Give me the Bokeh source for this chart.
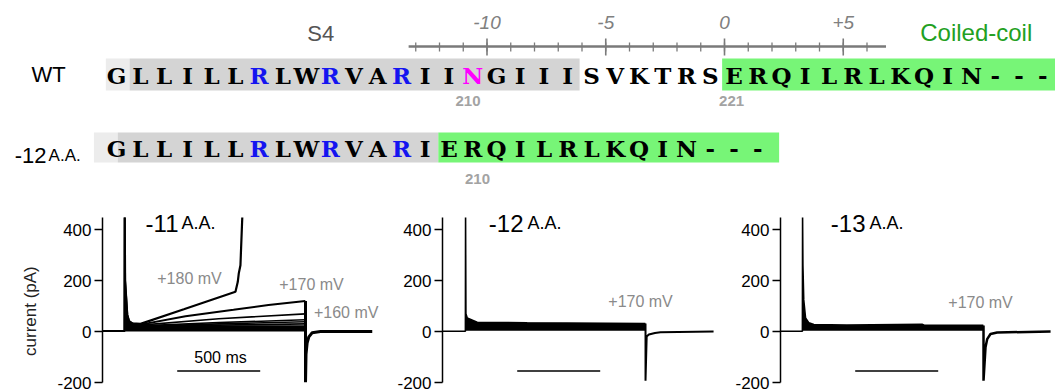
import math
from bokeh.plotting import figure
from bokeh.models import Range1d, Label
from bokeh.layouts import column, row
from bokeh.core.properties import value
from bokeh.embed import file_html
from bokeh.resources import INLINE

# ---------------- sequence alignment ----------------
wt_seq = "GLLILLRLWRVARIINGIIISVKTRSERQILRLKQIN---"
del12_seq = "GLLILLRLWRVARIERQILRLKQIN---"
arg_idx = [6, 9, 12]      # S4 gating arginines
asn_idx = [15]            # N210 (WT only)

# shaded spans, in residue-index units
wt_fade = [-0.45, 0.55]
wt_s4 = [0.55, 19.5]
wt_cc = [25.5, 39.6]
del_fade = [-0.95, 0.05]
del_s4 = [0.05, 13.55]
del_cc = [13.55, 27.9]

# position ruler (relative to the first coiled-coil residue)
ruler_minor = list(range(-13, 7))
ruler_major = [-10, -5, 0, 5]
ruler_labels = ["-10", "-5", "0", "+5"]
ruler_span = [-13.3, 6.8]
ruler_zero = 25.6

# residue numbers printed under the rows
wt_num_text = ["210", "221"]
wt_num_pos = [14.8, 25.9]
del_num_text = ["210"]
del_num_pos = [15.2]

# ---------------- current traces (time ms, current pA) ----------------
y_ticks = [-200, 0, 200, 400]
y_tick_labels = ["-200", "0", "200", "400"]
y_axis_span = [-200, 447]
scalebar_t = [450, 950]
scalebar_i = -155

# -11 A.A.
m11_t_180 = [0, 133, 134, 136, 149, 160, 180, 229, 490, 801, 815, 821, 831, 842]
m11_i_180 = [2, 2, 447, 200, 66, 40, 32, 30, 87, 156, 195, 228, 260, 447]
m11_t_170 = [0, 133, 134, 136, 149, 160, 180, 229, 500, 789, 1000, 1222]
m11_i_170 = [2, 2, 447, 200, 66, 40, 30, 27, 60, 85, 104, 120]
m11_t_low = [229, 700, 1222]
m11_i_160 = [25, 50, 69]
m11_i_150 = [22, 35, 46]
m11_i_140 = [20, 30, 38]
m11_i_130 = [18, 25, 30]
m11_band_t = [136, 149, 160, 180, 229, 700, 1222]
m11_band_hi = [120, 66, 45, 35, 26, 24, 25]
m11_band_lo = [0, 0, 0, 0, 0, 0, 0]
m11_t_tail = [1223, 1223, 1226, 1233, 1243, 1263, 1313, 1625]
m11_i_tail = [120, -200, -90, -44, -21, -5, 0, 0]

# -12 A.A.
m12_t = [0, 138, 139, 141, 149, 209, 510, 1222]
m12_i = [1, 1, 447, 70, 53, 36, 34, 31]
m12_band_t = [141, 149, 209, 510, 1222]
m12_band_hi = [70, 53, 36, 34, 31]
m12_band_lo = [3, 3, 3, 3, 3]
m12_t_tail = [1223, 1223, 1230, 1243, 1280, 1313, 1633]
m12_i_tail = [31, -193, -20, -12, -6, -3, 0]

# -13 A.A.
m13_t = [0, 132, 133, 135, 140, 151, 171, 201, 400, 853, 870, 1222]
m13_i = [1, 1, 447, 260, 124, 53, 34, 27, 25, 28, 24, 24]
m13_band_t = [135, 140, 151, 171, 201, 400, 853, 870, 1222]
m13_band_hi = [260, 124, 53, 34, 27, 25, 28, 24, 24]
m13_band_lo = [3, 3, 3, 3, 3, 3, 3, 3, 3]
m13_t_tail = [1223, 1223, 1235, 1245, 1265, 1305, 1627]
m13_i_tail = [24, -193, -62, -30, -10, -4, 0]

SANS = "Liberation Sans"
SEQ_FONT = "DejaVu Serif"

# ---------------- sequence panel ----------------
PX = 23.75          # pixels per residue
X0 = 116            # pixel of residue index 0
seq = figure(width=1055, height=192, output_backend="svg", toolbar_location=None,
             x_range=Range1d(-X0 / PX, (1055 - X0) / PX), y_range=Range1d(192, 0),
             x_axis_type=None, y_axis_type=None, min_border=0)
seq.grid.visible = False
seq.outline_line_color = None

ROW_WT, ROW_DEL = 74, 147
H_WT, H_DEL = 16, 15

def shade(span, yc, h, color):
    seq.quad(left=[span[0]], right=[span[1]], top=[yc - h], bottom=[yc + h],
             fill_color=color, line_color=None)

shade(wt_fade, ROW_WT, H_WT, "#ececec")
shade(wt_s4, ROW_WT, H_WT, "#d4d4d4")
shade(wt_cc, ROW_WT, H_WT, "#77f577")
shade(del_fade, ROW_DEL, H_DEL, "#ececec")
shade(del_s4, ROW_DEL, H_DEL, "#d4d4d4")
shade(del_cc, ROW_DEL, H_DEL, "#77f577")

def letters(s, yc, hl_blue, hl_mag):
    cols = []
    for i, _ in enumerate(s):
        if i in hl_blue:
            cols.append("#1414f0")
        elif i in hl_mag:
            cols.append("#ff00ff")
        else:
            cols.append("black")
    seq.text(x=list(range(len(s))), y=[yc + 1] * len(s), text=list(s), text_color=cols,
             text_font=value(SEQ_FONT), text_font_style="bold", text_font_size="23px",
             text_align="center", text_baseline="middle")

letters(wt_seq, ROW_WT, arg_idx, asn_idx)
letters(del12_seq, ROW_DEL, arg_idx, [])

# ruler
rx = [ruler_zero + t for t in ruler_minor]
seq.segment(x0=[ruler_zero + ruler_span[0]], x1=[ruler_zero + ruler_span[1]], y0=[46], y1=[46],
            line_color="#7a7a7a", line_width=2.5)
seq.segment(x0=rx, x1=rx, y0=[42] * len(rx), y1=[51] * len(rx), line_color="#7a7a7a", line_width=1.3)
mx = [ruler_zero + t for t in ruler_major]
seq.segment(x0=mx, x1=mx, y0=[38] * len(mx), y1=[55] * len(mx), line_color="#7a7a7a", line_width=1.6)
seq.text(x=mx, y=[22] * len(mx), text=ruler_labels, text_color="#808080",
         text_font=value(SANS), text_font_style="italic", text_font_size="19px",
         text_align="center", text_baseline="middle")

# residue numbers
seq.text(x=wt_num_pos, y=[100] * len(wt_num_pos), text=wt_num_text, text_color="#a3a3a3",
         text_font=value(SANS), text_font_style="bold", text_font_size="15px",
         text_align="center", text_baseline="middle")
seq.text(x=del_num_pos, y=[178] * len(del_num_pos), text=del_num_text, text_color="#a3a3a3",
         text_font=value(SANS), text_font_style="bold", text_font_size="15px",
         text_align="center", text_baseline="middle")

def seq_label(x, y, text, size, color="black", align="center", baseline="middle"):
    seq.add_layout(Label(x=x, y=y, text=text, text_font=SANS, text_font_size=size,
                         text_color=color, text_align=align, text_baseline=baseline))

seq_label(8.6, 33, "S4", "22px", "#555555")
seq_label(36.2, 32, "Coiled-coil", "24px", "#22a022")
seq_label(-2.86, ROW_WT, "WT", "22px")
seq_label(-2.95, 155, "-12", "22px", align="right", baseline="alphabetic")
seq_label(-2.86, 155, "A.A.", "17px", align="left", baseline="alphabetic")

# ---------------- trace panels ----------------
PX_PER_MS = 0.166
H_TR = 199
Y_LO = -200
PX_PER_PA = 0.255
BOTTOM = 9
Y_HI = Y_LO + (H_TR - BOTTOM) / PX_PER_PA

def trace_fig(width, left):
    frame_w = width - left
    p = figure(width=width, height=H_TR, output_backend="svg", toolbar_location=None,
               x_range=Range1d(0, frame_w / PX_PER_MS), y_range=Range1d(Y_LO, Y_HI),
               x_axis_type=None, min_border_left=left, min_border_right=0,
               min_border_top=0, min_border_bottom=BOTTOM)
    p.grid.visible = False
    p.outline_line_color = None
    ax = p.yaxis[0]
    ax.bounds = tuple(y_axis_span)
    ax.ticker = y_ticks
    ax.major_label_overrides = dict(zip(y_ticks, y_tick_labels))
    ax.axis_line_width = 1.5
    ax.axis_line_color = "black"
    ax.major_tick_line_width = 1.5
    ax.major_tick_line_color = "black"
    ax.major_tick_out = 8
    ax.major_tick_in = 0
    ax.minor_tick_line_color = None
    ax.major_label_text_font = SANS
    ax.major_label_text_font_size = "17px"
    ax.major_label_text_color = "black"
    ax.major_label_standoff = 3
    p.line(scalebar_t, [scalebar_i, scalebar_i], line_color="black", line_width=1.5)
    return p

def title(p, num, xr, xl):
    p.text(x=[xr], y=[424], text=[num], text_font=value(SANS), text_font_size="24px",
           text_align="right", text_baseline="alphabetic", text_color="black")
    p.text(x=[xl], y=[424], text=["A.A."], text_font=value(SANS), text_font_size="18px",
           text_align="left", text_baseline="alphabetic", text_color="black")

def vlabel(p, x, y, text):
    p.text(x=[x], y=[y], text=[text], text_font=value(SANS), text_font_size="16px",
           text_color="#8a8a8a", text_align="center", text_baseline="middle")

# y-axis caption in its own narrow strip
cap = figure(width=40, height=H_TR, output_backend="svg", toolbar_location=None,
             x_range=Range1d(0, 40), y_range=Range1d(Y_LO, Y_HI),
             x_axis_type=None, y_axis_type=None, min_border=0, min_border_bottom=BOTTOM)
cap.grid.visible = False
cap.outline_line_color = None
cap.text(x=[30], y=[80], text=["current (pA)"], angle=math.pi / 2,
         text_font=value(SANS), text_font_size="17px", text_color="#222222",
         text_align="center", text_baseline="middle")

# -11 A.A.
p1 = trace_fig(340, 62)
p1.varea(x=m11_band_t, y1=m11_band_lo, y2=m11_band_hi, fill_color="black")
p1.line(m11_t_180, m11_i_180, line_color="black", line_width=2.2)
p1.line(m11_t_170, m11_i_170, line_color="black", line_width=2)
for ys in (m11_i_160, m11_i_150, m11_i_140, m11_i_130):
    p1.line(m11_t_low, ys, line_color="black", line_width=1.6)
p1.line(m11_t_tail, m11_i_tail, line_color="black", line_width=3)
title(p1, "-11", 458, 476)
vlabel(p1, 524, 206, "+180 mV")
vlabel(p1, 1259, 186, "+170 mV")
vlabel(p1, 1468, 74, "+160 mV")
p1.text(x=[711], y=[-101], text=["500 ms"], text_font=value(SANS), text_font_size="16px",
        text_color="black", text_align="center", text_baseline="middle")

# -12 A.A.
p2 = trace_fig(335, 62)
p2.varea(x=m12_band_t, y1=m12_band_lo, y2=m12_band_hi, fill_color="black")
p2.line(m12_t, m12_i, line_color="black", line_width=1.6)
p2.line(m12_t_tail, m12_i_tail, line_color="black", line_width=2)
title(p2, "-12", 488, 512)
vlabel(p2, 1193, 116, "+170 mV")

# -13 A.A.
p3 = trace_fig(340, 65)
p3.varea(x=m13_band_t, y1=m13_band_lo, y2=m13_band_hi, fill_color="black")
p3.line(m13_t, m13_i, line_color="black", line_width=1.6)
p3.line(m13_t_tail, m13_i_tail, line_color="black", line_width=2.5)
title(p3, "-13", 512, 536)
vlabel(p3, 1205, 112, "+170 mV")

layout = column(seq, row(cap, p1, p2, p3, spacing=0), spacing=0)
open("out.html", "w").write(file_html(layout, INLINE))
